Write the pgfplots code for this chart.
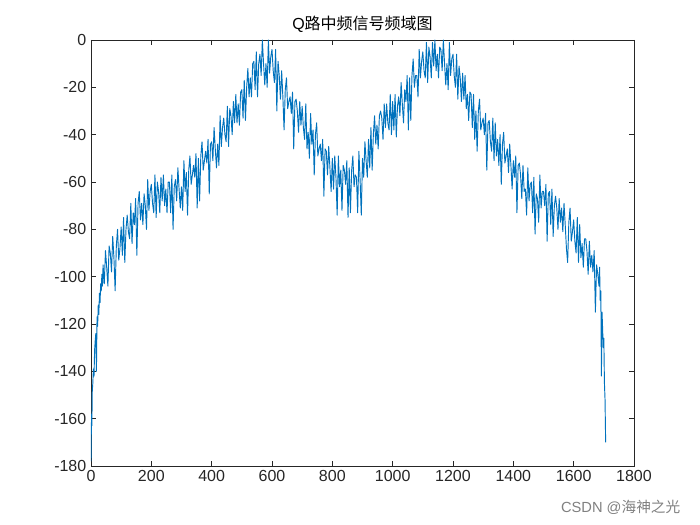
\documentclass[border=0pt]{standalone}
\usepackage{pgfplots}
\pgfplotsset{compat=1.18}
\usepackage{fontspec}
\setmainfont{Liberation Sans}
\newfontfamily\cjk{Noto Sans CJK SC}
\definecolor{mblue}{RGB}{0,114,189}
\definecolor{maxis}{RGB}{38,38,38}
\begin{document}
\begin{tikzpicture}
\path[use as bounding box] (-68.25pt,-44.25pt) rectangle (456.75pt,349.5pt);
\begin{axis}[
  at={(0,0)}, anchor=south west,
  scale only axis, width=407.25pt, height=319.5pt,
  xmin=0, xmax=1800, ymin=-180, ymax=0,
  xtick={0,200,...,1800}, ytick={-180,-160,...,0},
  tick align=inside, major tick length=3.75pt,
  axis line style={maxis}, tick style={maxis, line width=0.5pt},
  ticklabel style={font=\fontsize{12}{14}\selectfont, text=maxis},
  /pgf/number format/assume math mode=true,
  /pgf/number format/1000 sep={},
  scaled ticks=false,
  title={Q{\cjk 路中频信号频域图}},
  title style={font=\fontsize{12}{14}\selectfont, yshift=-4pt},
  clip=true,
]
\addplot[mblue, line width=0.7pt, line join=round] coordinates {
(0,-178)(1,-166)(2,-158)(3,-163)(4,-149)(6,-145)(8,-139)(10,-142)(12,-131)(14,-127)(16,-124)(18,-140)(20,-117)(22,-121)(24,-112)(26,-116)(28,-107)(30,-111)(32,-103)(34,-106)(36,-99)(38,-104)
(40,-95)(44,-103)(48,-89)(52,-96)(56,-104)
(60,-87)(64,-90)(68,-98)(72,-83)(76,-92)
(80,-106)(84,-87)(88,-80)(92,-93)(96,-88)
(100,-79)(104,-91)(108,-75)(112,-94)(116,-80)
(120,-74)(124,-81)(128,-84)(132,-69)(136,-86)
(140,-73)(144,-78)(148,-67)(152,-91)(156,-69)
(160,-64)(164,-76)(168,-69)(172,-78)(176,-65)
(180,-70)(184,-80)(188,-59)(192,-72)(196,-64)
(200,-61)(204,-69)(208,-73)(212,-57)(216,-75)
(220,-60)(224,-64)(228,-73)(232,-58)(236,-68)
(240,-57)(244,-70)(248,-63)(252,-73)(256,-60)
(260,-60)(264,-73)(268,-57)(272,-80)(276,-62)
(280,-59)(284,-68)(288,-54)(292,-63)(296,-71)
(300,-62)(304,-72)(308,-51)(312,-64)(316,-56)
(320,-74)(324,-55)(328,-49)(332,-61)(336,-57)
(340,-53)(344,-58)(348,-48)(352,-71)(356,-50)
(360,-68)(364,-49)(368,-43)(372,-55)(376,-51)
(380,-47)(384,-52)(388,-42)(392,-65)(396,-44)
(400,-43)(404,-51)(408,-37)(412,-46)(416,-54)
(420,-44)(424,-53)(428,-32)(432,-45)(436,-37)
(440,-33)(444,-40)(448,-43)(452,-28)(456,-45)
(460,-29)(464,-32)(468,-40)(472,-26)(476,-35)
(480,-23)(484,-35)(488,-27)(492,-36)(496,-22)
(500,-21)(504,-33)(508,-17)(512,-34)(516,-20)
(520,-12)(524,-24)(528,-16)(532,-24)(536,-10)
(540,-9)(544,-21)(548,-5)(552,-24)(556,-10)
(560,-6)(564,-15)(568,0)(572,-10)(576,-19)
(580,-10)(584,-20)(588,0)(592,-14)(596,-7)
(600,-4)(604,-13)(608,-18)(612,-4)(616,-30)
(620,-9)(624,-15)(628,-25)(632,-13)(636,-24)
(640,-38)(644,-21)(648,-16)(652,-29)(656,-26)
(660,-24)(664,-31)(668,-22)(672,-46)(676,-26)
(680,-25)(684,-30)(688,-39)(692,-26)(696,-36)
(700,-28)(704,-37)(708,-42)(712,-27)(716,-46)
(720,-39)(724,-50)(728,-31)(732,-44)(736,-38)
(740,-57)(744,-40)(748,-35)(752,-49)(756,-46)
(760,-44)(764,-51)(768,-42)(772,-66)(776,-46)
(780,-47)(784,-57)(788,-45)(792,-54)(796,-64)
(800,-50)(804,-63)(808,-49)(812,-58)(816,-74)
(820,-49)(824,-62)(828,-55)(832,-72)(836,-53)
(840,-55)(844,-61)(848,-51)(852,-75)(856,-54)
(860,-73)(864,-55)(868,-49)(872,-62)(876,-57)
(880,-58)(884,-73)(888,-47)(892,-59)(896,-74)
(900,-50)(904,-58)(908,-43)(912,-51)(916,-58)
(920,-42)(924,-54)(928,-37)(932,-55)(936,-40)
(940,-32)(944,-44)(948,-36)(952,-46)(956,-32)
(960,-30)(964,-33)(968,-42)(972,-27)(976,-37)
(980,-27)(984,-35)(988,-38)(992,-23)(996,-40)
(1000,-26)(1004,-38)(1008,-23)(1012,-41)(1016,-28)
(1020,-24)(1024,-32)(1028,-18)(1032,-27)(1036,-35)
(1040,-21)(1044,-26)(1048,-15)(1052,-38)(1056,-16)
(1060,-34)(1064,-15)(1068,-8)(1072,-20)(1076,-15)
(1080,-15)(1084,-24)(1088,-4)(1092,-16)(1096,-9)
(1100,-5)(1104,-13)(1108,-16)(1112,-1)(1116,-18)
(1120,-3)(1124,-7)(1128,-16)(1132,-1)(1136,-11)
(1140,0)(1144,-13)(1148,-6)(1152,-16)(1156,-3)
(1160,-4)(1164,-13)(1168,0)(1172,-10)(1176,-19)
(1180,-10)(1184,-21)(1188,-1)(1192,-15)(1196,-8)
(1200,-6)(1204,-15)(1208,-20)(1212,-6)(1216,-25)
(1220,-11)(1224,-16)(1228,-26)(1232,-14)(1236,-25)
(1240,-15)(1244,-29)(1248,-23)(1252,-34)(1256,-22)
(1260,-23)(1264,-37)(1268,-23)(1272,-42)(1276,-30)
(1280,-47)(1284,-30)(1288,-25)(1292,-38)(1296,-35)
(1300,-33)(1304,-40)(1308,-31)(1312,-55)(1316,-35)
(1320,-34)(1324,-43)(1328,-47)(1332,-33)(1336,-51)
(1340,-35)(1344,-49)(1348,-42)(1352,-53)(1356,-40)
(1360,-61)(1364,-44)(1368,-39)(1372,-52)(1376,-49)
(1380,-46)(1384,-56)(1388,-44)(1392,-53)(1396,-63)
(1400,-51)(1404,-58)(1408,-49)(1412,-73)(1416,-53)
(1420,-52)(1424,-57)(1428,-67)(1432,-53)(1436,-64)
(1440,-63)(1444,-74)(1448,-54)(1452,-68)(1456,-61)
(1460,-60)(1464,-73)(1468,-58)(1472,-82)(1476,-65)
(1480,-67)(1484,-77)(1488,-57)(1492,-71)(1496,-64)
(1500,-64)(1504,-70)(1508,-61)(1512,-85)(1516,-65)
(1520,-64)(1524,-78)(1528,-63)(1532,-83)(1536,-70)
(1540,-66)(1544,-71)(1548,-80)(1552,-67)(1556,-77)
(1560,-71)(1564,-81)(1568,-69)(1572,-78)(1576,-88)
(1580,-94)(1584,-77)(1588,-71)(1592,-85)(1596,-81)
(1600,-76)(1604,-85)(1608,-90)(1612,-75)(1616,-94)
(1620,-78)(1624,-92)(1628,-86)(1632,-96)(1636,-84)
(1640,-84)(1644,-89)(1648,-99)(1652,-85)(1656,-96)
(1660,-91)(1664,-98)(1668,-89)(1672,-115)(1676,-95)
(1680,-99)(1684,-104)(1686,-96)(1688,-110)(1690,-106)(1692,-142)(1694,-115)(1696,-122)(1698,-130)(1700,-126)(1702,-145)(1704,-152)(1706,-170)
};
\end{axis}
\node[anchor=east, text=gray, font=\fontsize{11}{13}\selectfont] at (445.5pt,-30.75pt) {CSDN @{\cjk 海神之光}};
\end{tikzpicture}
\end{document}
